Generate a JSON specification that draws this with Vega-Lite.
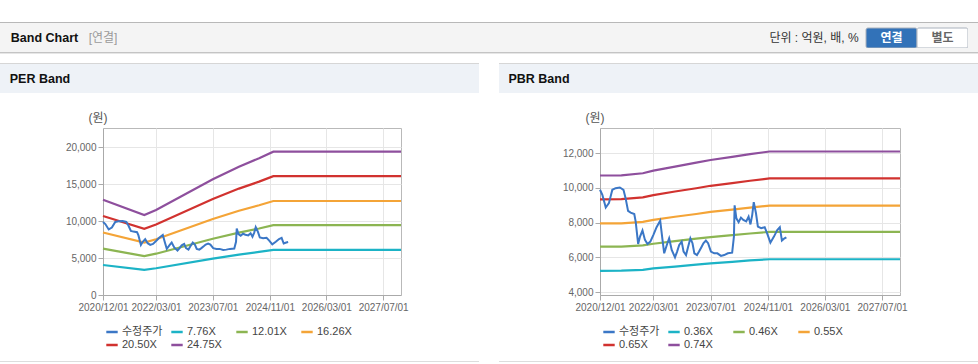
{
"$schema":"https://vega.github.io/schema/vega-lite/v6.json",
"padding":{"top":22,"left":0,"right":0,"bottom":0},
"background":"#ffffff",
"spacing":0,
"bounds":"flush",
"resolve":{"scale":{"color":"independent"},"legend":{"color":"independent"}},
"datasets":{
"price":[
{"date":"2020-12-01","value":9890,"series":"수정주가"},{"date":"2020-12-21","value":9600,"series":"수정주가"},{"date":"2021-01-19","value":8870,"series":"수정주가"},{"date":"2021-02-15","value":9120,"series":"수정주가"},{"date":"2021-03-16","value":9890,"series":"수정주가"},{"date":"2021-04-13","value":9980,"series":"수정주가"},{"date":"2021-05-19","value":10020,"series":"수정주가"},{"date":"2021-06-19","value":9890,"series":"수정주가"},{"date":"2021-07-07","value":9410,"series":"수정주가"},{"date":"2021-07-28","value":8680,"series":"수정주가"},{"date":"2021-08-19","value":8580,"series":"수정주가"},{"date":"2021-09-19","value":8500,"series":"수정주가"},{"date":"2021-10-01","value":8060,"series":"수정주가"},{"date":"2021-10-22","value":6780,"series":"수정주가"},{"date":"2021-11-07","value":7200,"series":"수정주가"},{"date":"2021-11-28","value":7550,"series":"수정주가"},{"date":"2021-12-19","value":7010,"series":"수정주가"},{"date":"2022-01-10","value":6780,"series":"수정주가"},{"date":"2022-02-03","value":6910,"series":"수정주가"},{"date":"2022-03-01","value":7300,"series":"수정주가"},{"date":"2022-03-28","value":7740,"series":"수정주가"},{"date":"2022-04-28","value":8120,"series":"수정주가"},{"date":"2022-05-16","value":7100,"series":"수정주가"},{"date":"2022-06-01","value":6240,"series":"수정주가"},{"date":"2022-06-28","value":6820,"series":"수정주가"},{"date":"2022-07-13","value":7100,"series":"수정주가"},{"date":"2022-08-04","value":6430,"series":"수정주가"},{"date":"2022-09-01","value":6010,"series":"수정주가"},{"date":"2022-09-19","value":6340,"series":"수정주가"},{"date":"2022-10-07","value":6720,"series":"수정주가"},{"date":"2022-10-28","value":6910,"series":"수정주가"},{"date":"2022-11-13","value":6340,"series":"수정주가"},{"date":"2022-12-04","value":6140,"series":"수정주가"},{"date":"2022-12-22","value":6620,"series":"수정주가"},{"date":"2023-01-10","value":7100,"series":"수정주가"},{"date":"2023-01-28","value":6820,"series":"수정주가"},{"date":"2023-02-13","value":6240,"series":"수정주가"},{"date":"2023-03-07","value":6140,"series":"수정주가"},{"date":"2023-03-25","value":6340,"series":"수정주가"},{"date":"2023-04-16","value":6620,"series":"수정주가"},{"date":"2023-05-01","value":6820,"series":"수정주가"},{"date":"2023-05-22","value":6970,"series":"수정주가"},{"date":"2023-06-10","value":6820,"series":"수정주가"},{"date":"2023-07-04","value":6340,"series":"수정주가"},{"date":"2023-08-01","value":6240,"series":"수정주가"},{"date":"2023-08-28","value":6240,"series":"수정주가"},{"date":"2023-09-28","value":6090,"series":"수정주가"},{"date":"2023-10-25","value":6140,"series":"수정주가"},{"date":"2023-11-25","value":6240,"series":"수정주가"},{"date":"2024-01-01","value":6280,"series":"수정주가"},{"date":"2024-01-16","value":7200,"series":"수정주가"},{"date":"2024-01-22","value":9000,"series":"수정주가"},{"date":"2024-02-06","value":8250,"series":"수정주가"},{"date":"2024-02-25","value":8030,"series":"수정주가"},{"date":"2024-03-16","value":8290,"series":"수정주가"},{"date":"2024-04-05","value":8160,"series":"수정주가"},{"date":"2024-04-30","value":8070,"series":"수정주가"},{"date":"2024-05-20","value":8350,"series":"수정주가"},{"date":"2024-06-05","value":7900,"series":"수정주가"},{"date":"2024-06-20","value":8450,"series":"수정주가"},{"date":"2024-07-03","value":9180,"series":"수정주가"},{"date":"2024-07-22","value":8540,"series":"수정주가"},{"date":"2024-08-07","value":7780,"series":"수정주가"},{"date":"2024-09-04","value":7680,"series":"수정주가"},{"date":"2024-10-04","value":7740,"series":"수정주가"},{"date":"2024-10-25","value":7390,"series":"수정주가"},{"date":"2024-11-22","value":6850,"series":"수정주가"},{"date":"2024-12-22","value":7200,"series":"수정주가"},{"date":"2025-01-19","value":7580,"series":"수정주가"},{"date":"2025-02-10","value":7740,"series":"수정주가"},{"date":"2025-02-28","value":6970,"series":"수정주가"},{"date":"2025-03-22","value":7100,"series":"수정주가"},{"date":"2025-04-07","value":7160,"series":"수정주가"}
],
"perBands":[
{"date":"2020-12-01","series":"24.75X","value":12900},{"date":"2021-11-20","series":"24.75X","value":10830},{"date":"2022-03-01","series":"24.75X","value":11510},{"date":"2023-07-01","series":"24.75X","value":15670},{"date":"2024-02-10","series":"24.75X","value":17370},{"date":"2024-08-01","series":"24.75X","value":18510},{"date":"2024-12-01","series":"24.75X","value":19400},{"date":"2027-12-01","series":"24.75X","value":19400},
{"date":"2020-12-01","series":"20.50X","value":10690},{"date":"2021-11-20","series":"20.50X","value":8970},{"date":"2022-03-01","series":"20.50X","value":9540},{"date":"2023-07-01","series":"20.50X","value":12990},{"date":"2024-02-10","series":"20.50X","value":14400},{"date":"2024-08-01","series":"20.50X","value":15340},{"date":"2024-12-01","series":"20.50X","value":16080},{"date":"2027-12-01","series":"20.50X","value":16080},
{"date":"2020-12-01","series":"16.26X","value":8460},{"date":"2021-11-20","series":"16.26X","value":7100},{"date":"2022-03-01","series":"16.26X","value":7550},{"date":"2023-07-01","series":"16.26X","value":10280},{"date":"2024-02-10","series":"16.26X","value":11400},{"date":"2024-08-01","series":"16.26X","value":12140},{"date":"2024-12-01","series":"16.26X","value":12720},{"date":"2027-12-01","series":"16.26X","value":12720},
{"date":"2020-12-01","series":"12.01X","value":6270},{"date":"2021-11-20","series":"12.01X","value":5260},{"date":"2022-03-01","series":"12.01X","value":5590},{"date":"2023-07-01","series":"12.01X","value":7620},{"date":"2024-02-10","series":"12.01X","value":8450},{"date":"2024-08-01","series":"12.01X","value":9000},{"date":"2024-12-01","series":"12.01X","value":9450},{"date":"2027-12-01","series":"12.01X","value":9450},
{"date":"2020-12-01","series":"7.76X","value":4060},{"date":"2021-11-20","series":"7.76X","value":3410},{"date":"2022-03-01","series":"7.76X","value":3620},{"date":"2023-07-01","series":"7.76X","value":4930},{"date":"2024-02-10","series":"7.76X","value":5470},{"date":"2024-08-01","series":"7.76X","value":5830},{"date":"2024-12-01","series":"7.76X","value":6100},{"date":"2027-12-01","series":"7.76X","value":6100}
],
"pbrBands":[
{"date":"2020-12-01","series":"0.74X","value":10710},{"date":"2021-06-01","series":"0.74X","value":10720},{"date":"2021-12-01","series":"0.74X","value":10840},{"date":"2022-03-01","series":"0.74X","value":10990},{"date":"2022-09-01","series":"0.74X","value":11220},{"date":"2023-03-01","series":"0.74X","value":11450},{"date":"2023-07-01","series":"0.74X","value":11600},{"date":"2024-01-01","series":"0.74X","value":11780},{"date":"2024-06-01","series":"0.74X","value":11940},{"date":"2024-11-15","series":"0.74X","value":12090},{"date":"2027-12-01","series":"0.74X","value":12090},
{"date":"2020-12-01","series":"0.65X","value":9340},{"date":"2021-06-01","series":"0.65X","value":9350},{"date":"2021-12-01","series":"0.65X","value":9450},{"date":"2022-03-01","series":"0.65X","value":9580},{"date":"2022-09-01","series":"0.65X","value":9790},{"date":"2023-03-01","series":"0.65X","value":9980},{"date":"2023-07-01","series":"0.65X","value":10120},{"date":"2024-01-01","series":"0.65X","value":10270},{"date":"2024-06-01","series":"0.65X","value":10410},{"date":"2024-11-15","series":"0.65X","value":10540},{"date":"2027-12-01","series":"0.65X","value":10540},
{"date":"2020-12-01","series":"0.55X","value":7960},{"date":"2021-06-01","series":"0.55X","value":7960},{"date":"2021-12-01","series":"0.55X","value":8050},{"date":"2022-03-01","series":"0.55X","value":8160},{"date":"2022-09-01","series":"0.55X","value":8340},{"date":"2023-03-01","series":"0.55X","value":8500},{"date":"2023-07-01","series":"0.55X","value":8620},{"date":"2024-01-01","series":"0.55X","value":8750},{"date":"2024-06-01","series":"0.55X","value":8870},{"date":"2024-11-15","series":"0.55X","value":8980},{"date":"2027-12-01","series":"0.55X","value":8980},
{"date":"2020-12-01","series":"0.46X","value":6620},{"date":"2021-06-01","series":"0.46X","value":6630},{"date":"2021-12-01","series":"0.46X","value":6700},{"date":"2022-03-01","series":"0.46X","value":6790},{"date":"2022-09-01","series":"0.46X","value":6940},{"date":"2023-03-01","series":"0.46X","value":7080},{"date":"2023-07-01","series":"0.46X","value":7170},{"date":"2024-01-01","series":"0.46X","value":7280},{"date":"2024-06-01","series":"0.46X","value":7380},{"date":"2024-11-15","series":"0.46X","value":7470},{"date":"2027-12-01","series":"0.46X","value":7470},
{"date":"2020-12-01","series":"0.36X","value":5230},{"date":"2021-06-01","series":"0.36X","value":5240},{"date":"2021-12-01","series":"0.36X","value":5290},{"date":"2022-03-01","series":"0.36X","value":5370},{"date":"2022-09-01","series":"0.36X","value":5480},{"date":"2023-03-01","series":"0.36X","value":5590},{"date":"2023-07-01","series":"0.36X","value":5660},{"date":"2024-01-01","series":"0.36X","value":5750},{"date":"2024-06-01","series":"0.36X","value":5830},{"date":"2024-11-15","series":"0.36X","value":5900},{"date":"2027-12-01","series":"0.36X","value":5900}
],
"buttons":[{"opt":"연결","sel":"y"},{"opt":"별도","sel":"n"}]
},
"vconcat":[
{"data":{"values":[]},"mark":"point","width":978,"height":1,"view":{"fill":"#b8b8b8"}},
{"hconcat":[
 {"data":{"values":[{"t":"Band Chart"}]},"mark":{"type":"text","fontSize":12.5,"fontWeight":"bold","color":"#111111"},"encoding":{"text":{"field":"t"}},"width":89,"height":29,"view":{"fill":"#f4f4f4"}},
 {"data":{"values":[{"t":"[연결]"}]},"mark":{"type":"text","fontSize":12,"color":"#9a9a9a"},"encoding":{"text":{"field":"t"}},"width":28,"height":29,"view":{"fill":"#f4f4f4"}},
 {"data":{"values":[]},"mark":"point","width":645,"height":29,"view":{"fill":"#f4f4f4"}},
 {"data":{"values":[{"t":"단위 : 억원, 배, %"}]},"mark":{"type":"text","fontSize":12,"color":"#333333"},"encoding":{"text":{"field":"t"}},"width":104,"height":29,"view":{"fill":"#f4f4f4"}},
 {"vconcat":[
   {"data":{"values":[]},"mark":"point","width":102,"height":5,"view":{"fill":"#f4f4f4"}},
   {"data":{"name":"buttons"},"width":102,"height":20,"view":{"fill":"#f4f4f4"},
    "encoding":{"x":{"field":"opt","type":"nominal","sort":null,"scale":{"paddingInner":0,"paddingOuter":0},"axis":null}},
    "layer":[
     {"mark":{"type":"rect","stroke":"#aab2bd","strokeWidth":1,"cornerRadius":2},"encoding":{"fill":{"condition":{"test":"datum.sel === 'y'","value":"#3272b8"},"value":"#ffffff"}}},
     {"mark":{"type":"text","fontSize":12,"fontWeight":"bold"},"encoding":{"text":{"field":"opt"},"color":{"condition":{"test":"datum.sel === 'y'","value":"#ffffff"},"value":"#666666"}}}
    ]},
   {"data":{"values":[]},"mark":"point","width":102,"height":4,"view":{"fill":"#f4f4f4"}}
  ],"spacing":0,"bounds":"flush"},
 {"data":{"values":[]},"mark":"point","width":102,"height":29},
 {"data":{"values":[]},"mark":"point","width":10,"height":29,"view":{"fill":"#f4f4f4"}}
],"spacing":0,"bounds":"flush"},
{"data":{"values":[]},"mark":"point","width":978,"height":29},
{"data":{"values":[]},"mark":"point","width":978,"height":1,"view":{"fill":"#c4c4c4"}},
{"data":{"values":[]},"mark":"point","width":978,"height":1,"view":{"fill":"#e6e6e6"}},
{"data":{"values":[]},"mark":"point","width":978,"height":9},
{"hconcat":[
 {"data":{"values":[]},"mark":"point","width":479,"height":1,"view":{"fill":"#d6d6d6"}},
 {"data":{"values":[]},"mark":"point","width":20,"height":1},
 {"data":{"values":[]},"mark":"point","width":479,"height":1,"view":{"fill":"#d6d6d6"}}
],"spacing":0,"bounds":"flush"},
{"data":{"values":[]},"mark":"point","width":978,"height":1},
{"hconcat":[
 {"data":{"values":[{"t":"PER Band"}]},"mark":{"type":"text","fontSize":12.5,"fontWeight":"bold","color":"#111111"},"encoding":{"text":{"field":"t"}},"width":80,"height":29,"view":{"fill":"#eef2f7"}},
 {"data":{"values":[]},"mark":"point","width":399,"height":29,"view":{"fill":"#eef2f7"}},
 {"data":{"values":[]},"mark":"point","width":20,"height":29},
 {"data":{"values":[{"t":"PBR Band"}]},"mark":{"type":"text","fontSize":12.5,"fontWeight":"bold","color":"#111111"},"encoding":{"text":{"field":"t"}},"width":80,"height":29,"view":{"fill":"#eef2f7"}},
 {"data":{"values":[]},"mark":"point","width":399,"height":29,"view":{"fill":"#eef2f7"}}
],"spacing":0,"bounds":"flush"},
{"data":{"values":[]},"mark":"point","width":978,"height":64},
{"hconcat":[
 {"data":{"values":[]},"mark":"point","width":103,"height":167},
 {"width":298,"height":167,"view":{"stroke":"#b9b9b9","fill":"#ffffff"},
  "encoding":{
   "x":{"field":"date","type":"temporal","title":null,
     "scale":{"type":"utc","domain":[{"year":2020,"month":12,"date":1,"utc":true},{"year":2027,"month":12,"date":1,"utc":true}]},
     "axis":{"values":[{"year":2020,"month":12,"date":1,"utc":true},{"year":2022,"month":3,"date":1,"utc":true},{"year":2023,"month":7,"date":1,"utc":true},{"year":2024,"month":11,"date":1,"utc":true},{"year":2026,"month":3,"date":1,"utc":true},{"year":2027,"month":7,"date":1,"utc":true}],"format":"%Y/%m/%d","labelOverlap":false,"labelFlush":false}},
   "y":{"field":"value","type":"quantitative",
     "scale":{"domain":[0,22600],"nice":false,"zero":false},
     "axis":{"title":"(원)","values":[0,5000,10000,15000,20000],"format":",d","titleAngle":0,"titleAlign":"left","titleBaseline":"middle","titleX":-15,"titleY":-11}},
   "color":{"field":"series","type":"nominal","sort":null,
     "scale":{"domain":["수정주가","7.76X","12.01X","16.26X","20.50X","24.75X"],"range":["#3b77c6","#1cb3c6","#8cb552","#f4a437","#d1322f","#8e4f9d"]},
     "legend":{"title":null}}
  },
  "layer":[
   {"data":{"name":"perBands"},"mark":{"type":"line","strokeWidth":2.2}},
   {"data":{"name":"price"},"mark":{"type":"line","strokeWidth":2}}
  ]},
 {"data":{"values":[]},"mark":"point","width":199,"height":167},
 {"width":300,"height":167,"view":{"stroke":"#b9b9b9","fill":"#ffffff"},
  "encoding":{
   "x":{"field":"date","type":"temporal","title":null,
     "scale":{"type":"utc","domain":[{"year":2020,"month":12,"date":1,"utc":true},{"year":2027,"month":12,"date":1,"utc":true}]},
     "axis":{"values":[{"year":2020,"month":12,"date":1,"utc":true},{"year":2022,"month":3,"date":1,"utc":true},{"year":2023,"month":7,"date":1,"utc":true},{"year":2024,"month":11,"date":1,"utc":true},{"year":2026,"month":3,"date":1,"utc":true},{"year":2027,"month":7,"date":1,"utc":true}],"format":"%Y/%m/%d","labelOverlap":false,"labelFlush":false}},
   "y":{"field":"value","type":"quantitative",
     "scale":{"domain":[3845,13440],"nice":false,"zero":false},
     "axis":{"title":"(원)","values":[4000,6000,8000,10000,12000],"format":",d","titleAngle":0,"titleAlign":"left","titleBaseline":"middle","titleX":-15,"titleY":-11}},
   "color":{"field":"series","type":"nominal","sort":null,
     "scale":{"domain":["수정주가","0.36X","0.46X","0.55X","0.65X","0.74X"],"range":["#3b77c6","#1cb3c6","#8cb552","#f4a437","#d1322f","#8e4f9d"]},
     "legend":{"title":null}}
  },
  "layer":[
   {"data":{"name":"pbrBands"},"mark":{"type":"line","strokeWidth":2.2}},
   {"data":{"name":"price"},"mark":{"type":"line","strokeWidth":2}}
  ]}
],"spacing":0,"bounds":"flush","resolve":{"scale":{"color":"independent"},"legend":{"color":"independent"}}},
{"data":{"values":[]},"mark":"point","width":978,"height":233},
{"hconcat":[
 {"data":{"values":[]},"mark":"point","width":479,"height":1,"view":{"fill":"#dddddd"}},
 {"data":{"values":[]},"mark":"point","width":20,"height":1},
 {"data":{"values":[]},"mark":"point","width":479,"height":1,"view":{"fill":"#dddddd"}}
],"spacing":0,"bounds":"flush"},
{"data":{"values":[]},"mark":"point","width":978,"height":1}
],
"config":{
 "font":"Liberation Sans, Noto Sans CJK KR",
 "view":{"stroke":null},
 "axis":{"labelFontSize":10,"labelColor":"#666666","tickColor":"#aaaaaa","domainColor":"#aaaaaa","gridColor":"#e6e6e6","tickSize":5,"labelPadding":2,"titleFontWeight":"normal","titleFontSize":12,"titleColor":"#555555"},
 "legend":{"orient":"bottom","direction":"horizontal","columns":4,"gridAlign":"all","symbolType":"stroke","symbolStrokeWidth":2.5,"symbolSize":130,"labelFontSize":11,"labelColor":"#444444","rowPadding":1,"columnPadding":3,"offset":11,"labelOffset":3,"padding":2}
}
}
